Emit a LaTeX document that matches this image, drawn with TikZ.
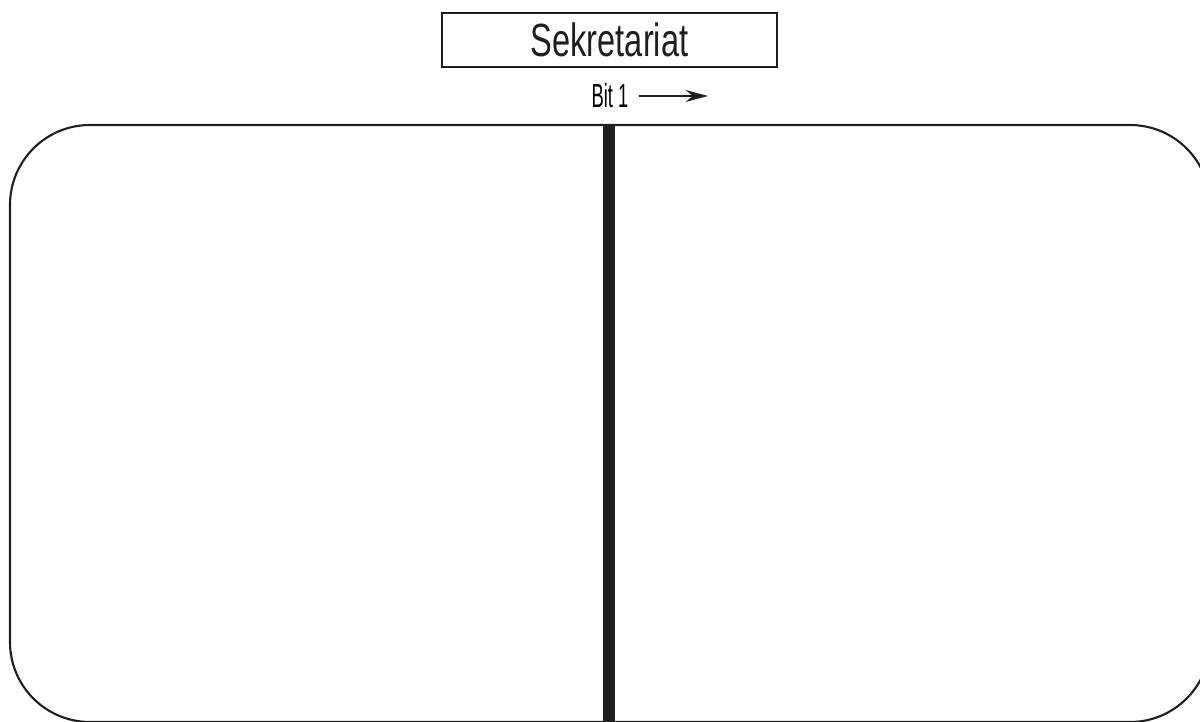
\documentclass[tikz,border=0pt]{standalone}
\usepackage{fontspec}
\usepackage{tikz}
\usetikzlibrary{arrows.meta,positioning}
\newfontfamily\titlefont[FakeStretch=0.7]{Liberation Sans}
\newfontfamily\labelfont[FakeStretch=0.55]{Liberation Sans}
\definecolor{ink}{HTML}{1E1E1E}

\begin{document}
\begin{tikzpicture}[x=0.02cm,y=-0.02cm]
    \useasboundingbox (0,0) rectangle (1200,722);

    % Room outline
    \draw[line width=1.2pt, ink, rounded corners=1.6cm] (10,125) rectangle (1210,722);

    % Divider wall
    \draw[line width=0.24cm, ink] (609,125) -- (609,722);

    % Room name
    \node[draw, line width=1.1pt, ink, minimum width=6.7cm, minimum height=1.08cm,
          font=\titlefont\fontsize{26.5}{30}\selectfont] (sekretariat) at (609.5,40) {Sekretariat};

    % Direction label
    \node[font=\labelfont\fontsize{19}{22}\selectfont, inner sep=0pt] (bit) at (610,96) {Bit 1};
    \coordinate (bitend) at (708,97);
    \draw[-{Stealth[length=4.5mm,width=2.4mm]}, line width=1pt, ink]
        ([xshift=2mm]bit.east) -- (bit.east -| bitend);
\end{tikzpicture}
\end{document}
